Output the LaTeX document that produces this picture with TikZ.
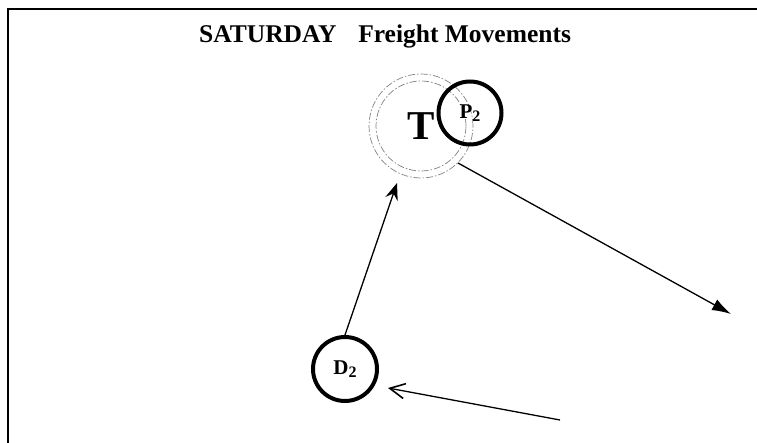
\documentclass[tikz,border=0pt]{standalone}
\usepackage{fontspec}
\setmainfont{Liberation Serif}
\usetikzlibrary{arrows.meta}
\tikzset{
  frameline/.style={line width=2pt, black},
  stop/.style={circle, draw, line width=4pt, inner sep=0pt},
  tring/.style={circle, draw=black!50, line width=0.7pt,
    dash pattern=on 7pt off 2pt on 1.5pt off 2pt, inner sep=0pt},
  move/.style={line width=1.3pt},
  title/.style={font=\fontsize{25.5}{28}\selectfont\bfseries, inner sep=0pt},
  stoplabel/.style={font=\fontsize{21}{23}\selectfont\bfseries}
}
\newcommand{\sublabel}[2]{#1\raisebox{-0.3ex}{\fontsize{16}{17}\selectfont #2}}
\begin{document}
\begin{tikzpicture}[x=1pt, y=-1pt]
  \useasboundingbox (0,0) rectangle (757,443);
  % frame edges
  \coordinate (fTL) at (8,9);
  \coordinate (fTR) at (757,9);
  \coordinate (fBL) at (8,443);
  \draw[frameline] (fBL) -- (fTL) -- (fTR);

  % heading
  \node[title, anchor=base west] (head) at (199,43) {SATURDAY\hspace{0.85em}Freight Movements};

  % terminal with its double ring
  \node[tring, minimum size=104pt, font=\fontsize{41}{44}\selectfont\bfseries] (T) at (421,126) {T};
  \node[tring, minimum size=90pt] (Tin) at (T) {};

  % pick-up and delivery stops
  \node[stop, minimum size=63pt, stoplabel] (P) at (470,113) {\sublabel{P}{2}};
  \node[stop, minimum size=64pt, stoplabel] (D) at (345,369) {\sublabel{D}{2}};

  % movements
  \coordinate (outEnd) at (731,314);
  \coordinate (upEnd) at (397,183);
  \coordinate (inStart) at (560,420);
  \coordinate (inEnd) at (388,388);

  \draw[move, -{Latex[length=19pt, width=12pt]}] (T.-45) -- (outEnd);
  \draw[move, -{Stealth[length=17pt, width=13pt, inset=6pt]}] (D.north) -- (upEnd);
  \draw[move, -{Straight Barb[length=15pt, width=15pt, line width=1.6pt]}] (inStart) -- (inEnd);
\end{tikzpicture}
\end{document}
